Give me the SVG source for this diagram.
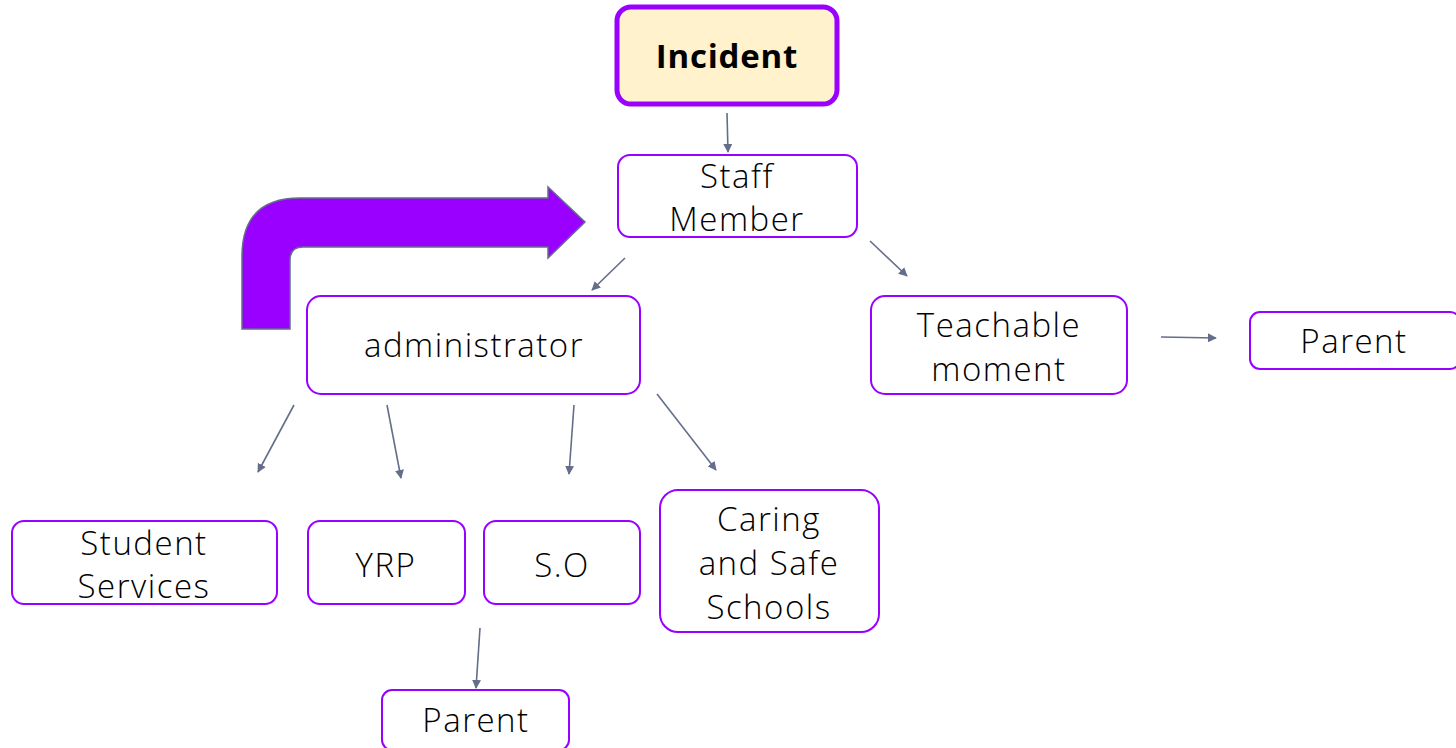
<svg xmlns="http://www.w3.org/2000/svg" width="1456" height="748" viewBox="0 0 1456 748">
<defs>
<style>
.box{fill:#ffffff;stroke:#9900ff;stroke-width:2}
.t{font-family:"Open Sans","Noto Sans",sans-serif;font-size:33px;font-weight:300;letter-spacing:1.5px;fill:#000;text-anchor:middle}
.c{stroke:#646e8a;stroke-width:1.6;fill:none;marker-end:url(#ah)}
</style>
<marker id="ah" viewBox="0 0 10 10" refX="9" refY="5" markerWidth="9" markerHeight="9" orient="auto" markerUnits="userSpaceOnUse">
<path d="M0,0 L10,5 L0,10 Z" fill="#646e8a"/>
</marker>
</defs>
<rect width="1456" height="748" fill="#ffffff"/>
<g id="bent-arrow">
<path d="M242,329 L242,256 Q242,198 300,198 L548,198 L548,187 L585,222 L548,258 L548,247 L303,247 Q290,247 290,260 L290,329 Z" fill="#9900ff" stroke="#646e8a" stroke-width="1.5"/>
</g>
<g id="connectors">
<line class="c" x1="727" y1="113" x2="728" y2="152"/>
<line class="c" x1="625" y1="258" x2="592" y2="290"/>
<line class="c" x1="870" y1="241" x2="907" y2="276"/>
<line class="c" x1="1161" y1="337" x2="1216" y2="338"/>
<line class="c" x1="294" y1="405" x2="258" y2="472"/>
<line class="c" x1="387" y1="405" x2="401" y2="478"/>
<line class="c" x1="574" y1="405" x2="569" y2="474"/>
<line class="c" x1="657" y1="394" x2="716" y2="470"/>
<line class="c" x1="480" y1="628" x2="476" y2="688"/>
</g>
<g id="incident">
<rect x="617" y="7" width="220" height="97" rx="14" fill="#fff2cc" stroke="#9900ff" stroke-width="5"/>
<text class="t" x="727" y="68" style="font-weight:bold;letter-spacing:0.8px">Incident</text>
</g>
<g id="staff-member">
<rect class="box" x="618" y="155" width="239" height="82" rx="12"/>
<text class="t" x="737" y="188">Staff</text>
<text class="t" x="737" y="231">Member</text>
</g>
<g id="administrator">
<rect class="box" x="307" y="296" width="333" height="98" rx="14"/>
<text class="t" x="474" y="357">administrator</text>
</g>
<g id="teachable-moment">
<rect class="box" x="871" y="296" width="256" height="98" rx="14"/>
<text class="t" x="999" y="337">Teachable</text>
<text class="t" x="999" y="381">moment</text>
</g>
<g id="parent-right">
<rect class="box" x="1250" y="312" width="210" height="57" rx="10"/>
<text class="t" x="1354" y="353">Parent</text>
</g>
<g id="student-services">
<rect class="box" x="12" y="521" width="265" height="83" rx="12"/>
<text class="t" x="144" y="555">Student</text>
<text class="t" x="144" y="598">Services</text>
</g>
<g id="yrp">
<rect class="box" x="308" y="521" width="157" height="83" rx="12"/>
<text class="t" x="386" y="577">YRP</text>
</g>
<g id="so">
<rect class="box" x="484" y="521" width="156" height="83" rx="12"/>
<text class="t" x="562" y="577">S.O</text>
</g>
<g id="caring-safe-schools">
<rect class="box" x="660" y="490" width="219" height="142" rx="18"/>
<text class="t" x="769" y="531">Caring</text>
<text class="t" x="769" y="575">and Safe</text>
<text class="t" x="769" y="619">Schools</text>
</g>
<g id="parent-bottom">
<rect class="box" x="382" y="690" width="187" height="60" rx="10"/>
<text class="t" x="476" y="732">Parent</text>
</g>
</svg>
